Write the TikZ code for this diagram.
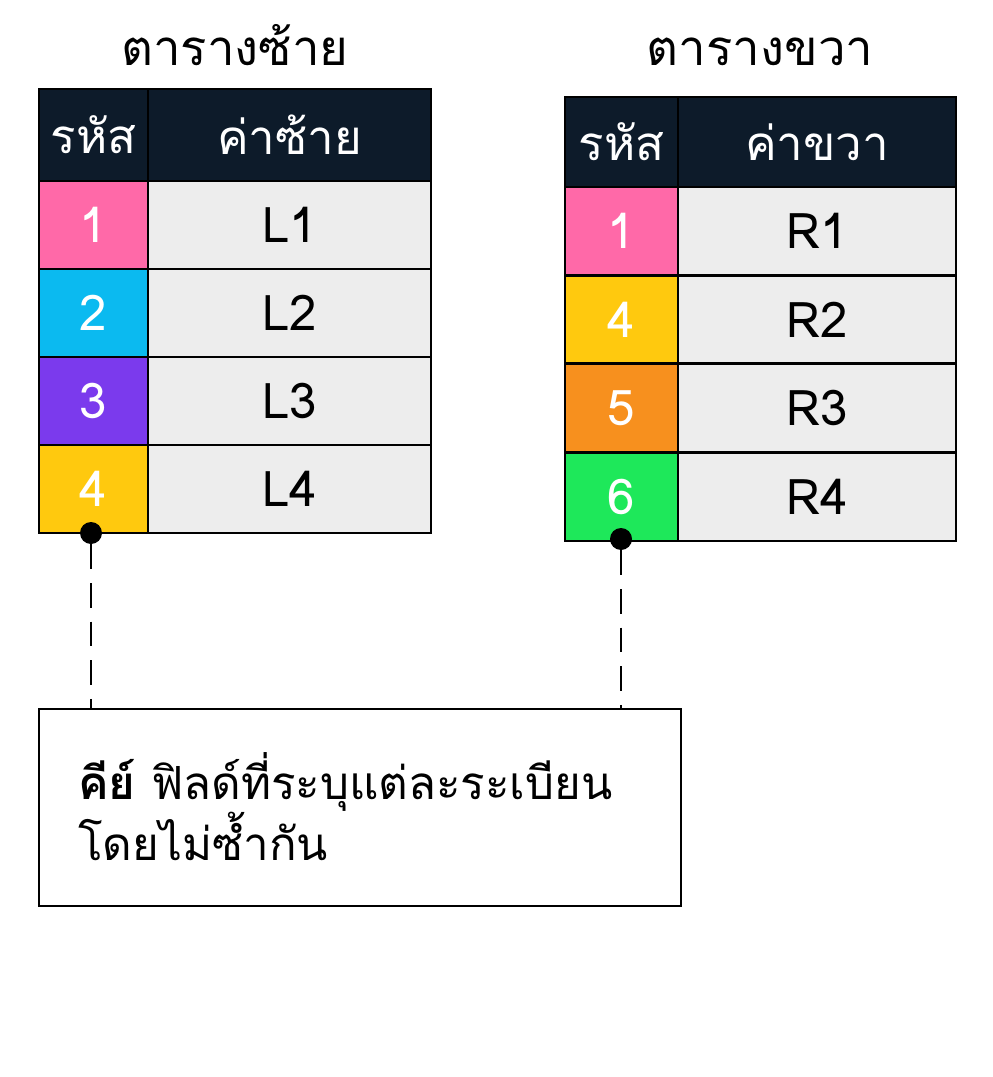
\documentclass[tikz,border=0pt]{standalone}
\usepackage{fontspec}
\setmainfont[Script=Thai]{Loma}
\usetikzlibrary{positioning}
\definecolor{headbg}{HTML}{0D1B2A}
\definecolor{cellbg}{HTML}{EDEDED}
\definecolor{kpink}{HTML}{FF69A8}
\definecolor{kcyan}{HTML}{0BBAF0}
\definecolor{kpurple}{HTML}{7B3AED}
\definecolor{kyellow}{HTML}{FFC90E}
\definecolor{korange}{HTML}{F7901E}
\definecolor{kgreen}{HTML}{1EE85A}
\tikzset{
  cell/.style={draw=black, line width=1.2pt, inner sep=0pt, anchor=north west,
    font=\fontsize{28}{30}\selectfont},
  head/.style={cell, fill=headbg, text=white, font=\fontsize{27}{30}\selectfont},
  keycell/.style={cell, fill=#1, text=white, minimum width=109\pxu, minimum height=88\pxu},
  valcell/.style={cell, fill=cellbg, minimum width=283\pxu, minimum height=88\pxu},
  title/.style={font=\fontsize{28}{30}\selectfont},
  dot/.style={circle, fill=black, inner sep=0pt, minimum size=22\pxu},
}
\newcommand{\pxu}{*0.02cm}
\begin{document}
\begin{tikzpicture}[x=0.02cm, y=-0.02cm]
  \useasboundingbox (0,0) rectangle (992,1077);

  % left table
  \node[title] (ltitle) at (235,45) {ตารางซ้าย};
  \node[head, minimum width=109\pxu, minimum height=92\pxu] (lhk) at (38,88) {รหัส};
  \node[head, minimum width=283\pxu, minimum height=92\pxu] (lhv) at (147,88) {ค่าซ้าย};
  \foreach \k/\c/\v [count=\i from 0] in {1/kpink/L1, 2/kcyan/L2, 3/kpurple/L3, 4/kyellow/L4} {
    \node[keycell=\c] (lk\i) at (38,180+88*\i) {\k};
    \node[valcell] (lv\i) at (147,180+88*\i) {\v};
  }

  % right table
  \node[title] (rtitle) at (760,52) {ตารางขวา};
  \node[head, minimum width=113\pxu, minimum height=90\pxu] (rhk) at (564,96) {รหัส};
  \node[head, minimum width=278\pxu, minimum height=90\pxu] (rhv) at (677,96) {ค่าขวา};
  \foreach \k/\c/\v [count=\i from 0] in {1/kpink/R1, 4/kyellow/R2, 5/korange/R3, 6/kgreen/R4} {
    \node[keycell=\c, minimum width=113\pxu] (rk\i) at (564,186+88.5*\i) {\k};
    \node[valcell, minimum width=278\pxu] (rv\i) at (677,186+88.5*\i) {\v};
  }

  % key note
  \node[dot] (ldot) at (91,533) {};
  \node[dot] (rdot) at (621,539) {};
  \node[draw=black, line width=1.2pt, anchor=north west, minimum width=642\pxu,
        minimum height=197\pxu, inner sep=0pt] (note) at (38,708) {};
  \node[anchor=north west, align=left, font=\fontsize{26}{35}\selectfont, inner sep=0pt]
    (notetext) at (78,752) {\textbf{คีย์} ฟิลด์ที่ระบุแต่ละระเบียน\\โดยไม่ซ้ำกัน};
  \coordinate (lend) at (91,708);
  \coordinate (rend) at (621,708);
  \draw[line width=1.2pt, dash pattern=on 14pt off 8pt] (ldot) -- (lend);
  \draw[line width=1.2pt, dash pattern=on 14pt off 8pt] (rdot) -- (rend);
\end{tikzpicture}
\end{document}
